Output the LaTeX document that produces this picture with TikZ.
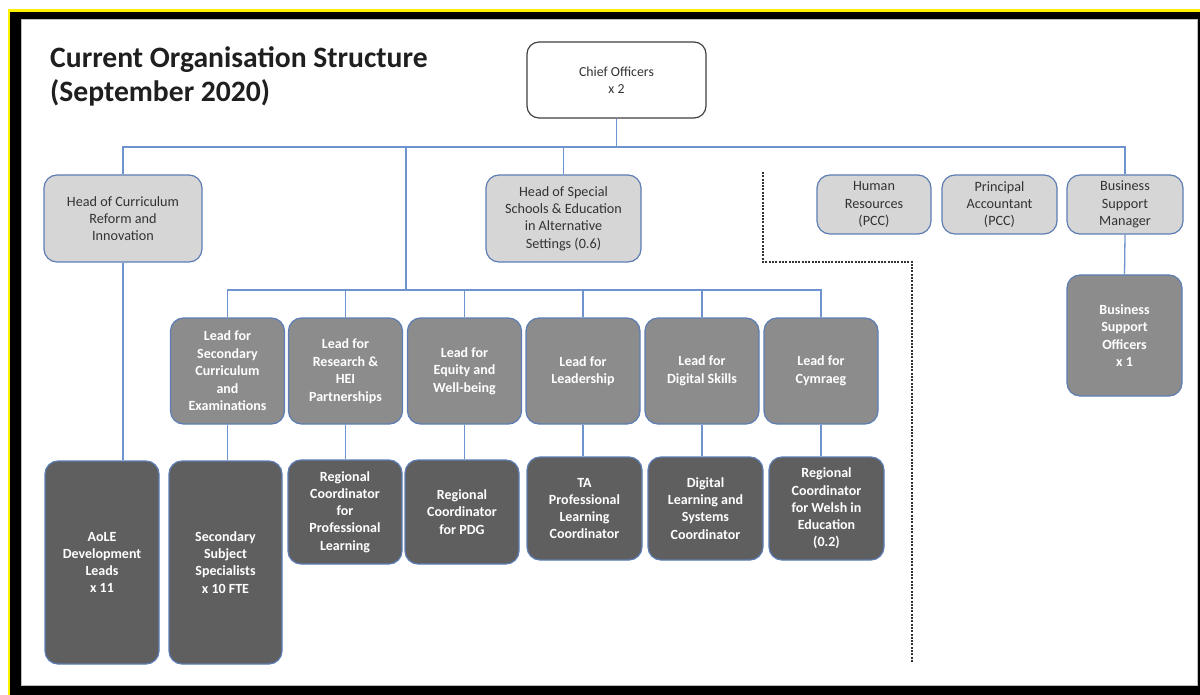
\documentclass[tikz,border=0pt]{standalone}
\usepackage{fontspec}
\setmainfont{Carlito}
\definecolor{conn}{HTML}{6F93CF}
\definecolor{bord}{HTML}{5C7DB5}
\definecolor{lightfill}{HTML}{D6D6D6}
\definecolor{midfill}{HTML}{8C8C8C}
\definecolor{darkfill}{HTML}{5F5F5F}
\definecolor{txt}{HTML}{333333}
\definecolor{frameyellow}{HTML}{FFF200}
\tikzset{
  boxbase/.style={rounded corners=13pt, draw=bord, line width=1.2pt, align=center, inner sep=0pt,
    font=\fontsize{14.2}{17.3}\selectfont},
  chiefbox/.style={boxbase, draw=black!75, fill=white, text=txt, rounded corners=12pt, font=\fontsize{13.8}{17.3}\selectfont},
  headbox/.style={boxbase, fill=lightfill, text=txt},
  leadbox/.style={boxbase, fill=midfill, text=white, font=\fontsize{14}{17.5}\selectfont\bfseries},
  lowbox/.style={boxbase, fill=darkfill, text=white, font=\fontsize{14}{17.2}\selectfont\bfseries},
  link/.style={draw=conn, line width=1.3pt},
  sep/.style={draw=black!80, line width=1.3pt, dash pattern=on 2pt off 1.3pt},
  titletext/.style={anchor=base west, inner sep=0pt, text=black!88, font=\fontsize{29.6}{34}\selectfont\bfseries}
}
\begin{document}
\begin{tikzpicture}[x=1pt,y=-1pt]
% frame
\useasboundingbox (0,0) rectangle (1200,695);
\fill[white] (0,0) rectangle (1200,695);
\fill[frameyellow] (8,9) rectangle (1200,695);
\fill[black] (10,12) rectangle (1200,695);
\fill[black!25] (21,19) rectangle (1198,686);
\fill[white] (22,20) rectangle (1197,685);

% title
\node[titletext] (t1) at (50,68) {Current Organisation Structure};
\node[titletext] (t2) at (50,102) {(September 2020)};

% nodes
\node[chiefbox, minimum width=179pt, minimum height=76pt] (chief) at (616.5,80) {Chief Officers\\x 2};

\node[headbox, minimum width=158pt, minimum height=87pt] (hcur) at (123,218.5) {Head of Curriculum\\Reform and\\Innovation};
\node[headbox, minimum width=155pt, minimum height=87pt] (hspec) at (563.5,218.5) {Head of Special\\Schools \& Education\\in Alternative\\Settings (0.6)};
\node[headbox, minimum width=114pt, minimum height=59pt] (hr) at (874,204.5) {Human\\Resources\\(PCC)};
\node[headbox, minimum width=115pt, minimum height=59pt] (pa) at (999.5,204.5) {Principal\\Accountant\\(PCC)};
\node[headbox, minimum width=116pt, minimum height=59pt] (bsm) at (1125,204.5) {Business\\Support\\Manager};
\node[leadbox, minimum width=115pt, minimum height=121pt] (bso) at (1124.5,335.5) {Business\\Support\\Officers\\x 1};

\node[leadbox, minimum width=114pt, minimum height=106pt] (l1) at (227.5,371) {Lead for\\Secondary\\Curriculum\\and\\Examinations};
\node[leadbox, minimum width=114pt, minimum height=106pt] (l2) at (345.5,371) {Lead for\\Research \&\\HEI\\Partnerships};
\node[leadbox, minimum width=114pt, minimum height=106pt] (l3) at (464.5,371) {Lead for\\Equity and\\Well-being};
\node[leadbox, minimum width=114pt, minimum height=106pt] (l4) at (583,371) {Lead for\\Leadership};
\node[leadbox, minimum width=114pt, minimum height=106pt] (l5) at (702,371) {Lead for\\Digital Skills};
\node[leadbox, minimum width=114pt, minimum height=106pt] (l6) at (821,371) {Lead for\\Cymraeg};

\node[lowbox, minimum width=114pt, minimum height=203pt] (aole) at (102,562.5) {AoLE\\Development\\Leads\\x 11};
\node[lowbox, minimum width=113pt, minimum height=203pt] (sss) at (225.5,562.5) {Secondary\\Subject\\Specialists\\x 10 FTE};
\node[lowbox, minimum width=114pt, minimum height=104pt] (rcpl) at (345,512) {Regional\\Coordinator\\for\\Professional\\Learning};
\node[lowbox, minimum width=114pt, minimum height=104pt] (rcpdg) at (462,512) {Regional\\Coordinator\\for PDG};
\node[lowbox, minimum width=115pt, minimum height=103pt] (ta) at (584.5,508.5) {TA\\Professional\\Learning\\Coordinator};
\node[lowbox, minimum width=115pt, minimum height=103pt] (dl) at (705.5,508.5) {Digital\\Learning and\\Systems\\Coordinator};
\node[lowbox, minimum width=115pt, minimum height=103pt] (rw) at (826.5,508.5) {Regional\\Coordinator\\for Welsh in\\Education\\(0.2)};

% buses
\coordinate (bus) at (0,147);
\coordinate (bus2) at (406,290);
\coordinate (d1) at (763,172);
\coordinate (d2) at (763,262);
\coordinate (d3) at (912,262);
\coordinate (d4) at (912,662);

% connectors
\draw[link] (chief.south) -- (chief.south |- bus);
\draw[link] (hcur.north) -- (hcur.north |- bus) -| (bsm.north);
\draw[link] (hspec.north) -- (hspec.north |- bus);
\draw[link] (bus2 |- bus) -- (bus2);
\draw[link] (l1.north) -- (l1.north |- bus2) -| (l6.north);
\foreach \n in {l2,l3,l4,l5} \draw[link] (\n.north) -- (\n.north |- bus2);
\draw[link] (hcur.south) -- (hcur.south |- aole.north);
\draw[link] (l1.south) -- (l1.south |- sss.north);
\draw[link] (l2.south) -- (l2.south |- rcpl.north);
\draw[link] (l3.south) -- (l3.south |- rcpdg.north);
\draw[link] (l4.south) -- (l4.south |- ta.north);
\draw[link] (l5.south) -- (l5.south |- dl.north);
\draw[link] (l6.south) -- (l6.south |- rw.north);
\draw[link] (bsm.south) -- (bso.north);

% separator
\draw[sep] (d1) -- (d2) -- (d3) -- (d4);
\end{tikzpicture}
\end{document}
